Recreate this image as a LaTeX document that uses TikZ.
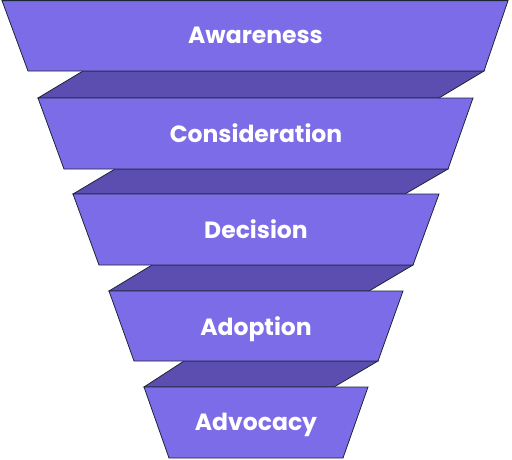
\documentclass[tikz,border=0pt]{standalone}
\usepackage{fontspec}
\newfontfamily\labfont{Poppins}[Ligatures=NoCommon]
\definecolor{face}{HTML}{7D6CE8}
\definecolor{side}{HTML}{5C4DB1}
\definecolor{edge}{HTML}{1B2636}
\tikzset{
  tier/.style={fill=face, draw=edge, line width=0.8pt, line join=miter},
  band/.style={fill=side, draw=edge, line width=0.8pt, line join=miter},
  label/.style={text=white, font=\labfont\bfseries\fontsize{23.5}{28}\selectfont, inner sep=0pt, anchor=base}
}
\begin{document}
\begin{tikzpicture}[x=1pt,y=-1pt]
\useasboundingbox (0,0) rectangle (512,459);
% side bands
\draw[band] (83,71) -- (484,71) -- (439,98) -- (38,98) -- cycle;
\draw[band] (115,169) -- (448,169) -- (405,194) -- (73,194) -- cycle;
\draw[band] (152,265) -- (413,265) -- (369,291) -- (109,291) -- cycle;
\draw[band] (184,361) -- (378,361) -- (334,387) -- (144,387) -- cycle;
% tiers
\draw[tier] (2,0.6) -- (508,0.6) -- (484,71) -- (28,71) -- cycle;
\draw[tier] (38,98) -- (473,98) -- (448,169) -- (64,169) -- cycle;
\draw[tier] (73,194) -- (439,194) -- (413,265) -- (99,265) -- cycle;
\draw[tier] (109,291) -- (403,291) -- (378,361) -- (134,361) -- cycle;
\draw[tier] (144,387) -- (368,387) -- (343,458) -- (169,458) -- cycle;
% labels
\node[label] (awareness) at (255.5,43) {Awareness};
\node[label] (consideration) at (256,142) {Consideration};
\node[label] (decision) at (256,238) {Decision};
\node[label] (adoption) at (256,335) {Adoption};
\node[label] (advocacy) at (256,430) {Advocacy};
\end{tikzpicture}
\end{document}
